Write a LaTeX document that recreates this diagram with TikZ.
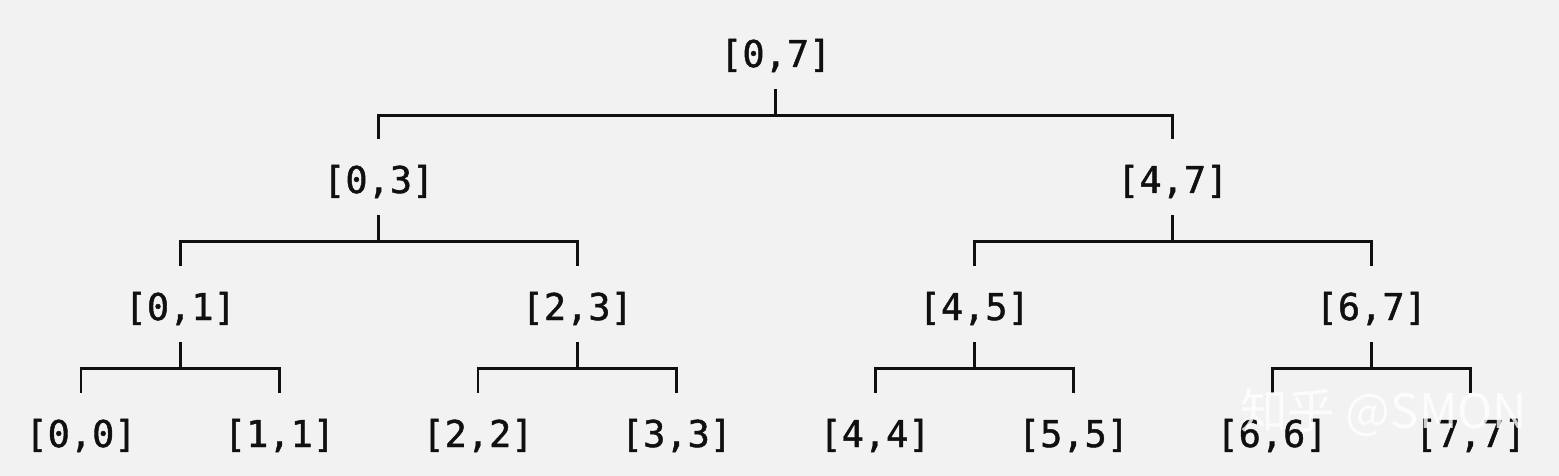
\documentclass[tikz,border=0pt]{standalone}
\usepackage{fontspec}
\newfontfamily\segfont[FakeBold=1.2]{DejaVu Sans Mono}
\newfontfamily\cjkfont{Noto Sans CJK SC}
\usepackage{tikz}
\definecolor{paper}{RGB}{242,242,242}
\definecolor{ink}{RGB}{16,16,16}
\tikzset{
  seg/.style={anchor=base, inner sep=0pt, text height=1.08cm, text depth=0.44cm, font=\segfont\fontsize{21}{21}\selectfont, text=ink},
  link/.style={draw=ink, line width=1.7pt}
}
\newcommand{\segnode}[4]{ \node[seg] (#1) at ( #2 , #3 ) {[#4]};}
\newcommand{\bracketjoin}[3]{ \draw[link] (#1.south) -- ++(0,26) coordinate (#1j); \draw[link] (#2.north) |- (#1j) -| (#3.north);}
\begin{document}
\begin{tikzpicture}[x=0.02cm, y=-0.02cm]
        \fill[paper] (0,0) rectangle (1559,476);
        \useasboundingbox (0,0) rectangle (1559,476);

        \segnode{n07}{775.75}{67}{0,7}

        \segnode{n03}{378.75}{193}{0,3}
        \segnode{n47}{1172.75}{193}{4,7}

        \segnode{n01}{180.25}{320}{0,1}
        \segnode{n23}{577.25}{320}{2,3}
        \segnode{n45}{974.25}{320}{4,5}
        \segnode{n67}{1371.25}{320}{6,7}

        \segnode{n00}{81}{447}{0,0}
        \segnode{n11}{279.5}{447}{1,1}
        \segnode{n22}{478}{447}{2,2}
        \segnode{n33}{676.5}{447}{3,3}
        \segnode{n44}{875}{447}{4,4}
        \segnode{n55}{1073.5}{447}{5,5}
        \segnode{n66}{1272}{447}{6,6}
        \segnode{n77}{1470.5}{447}{7,7}

        \bracketjoin{n07}{n03}{n47}
        \bracketjoin{n03}{n01}{n23}
        \bracketjoin{n47}{n45}{n67}
        \bracketjoin{n01}{n00}{n11}
        \bracketjoin{n23}{n22}{n33}
        \bracketjoin{n45}{n44}{n55}
        \bracketjoin{n67}{n66}{n77}

        % watermark
        \node[anchor=base west, inner sep=0pt, text=white, opacity=0.8, font=\cjkfont\fontsize{27}{27}\selectfont] (mark) at (1240,428) {知乎 @SMON};
    \end{tikzpicture}
\end{document}
